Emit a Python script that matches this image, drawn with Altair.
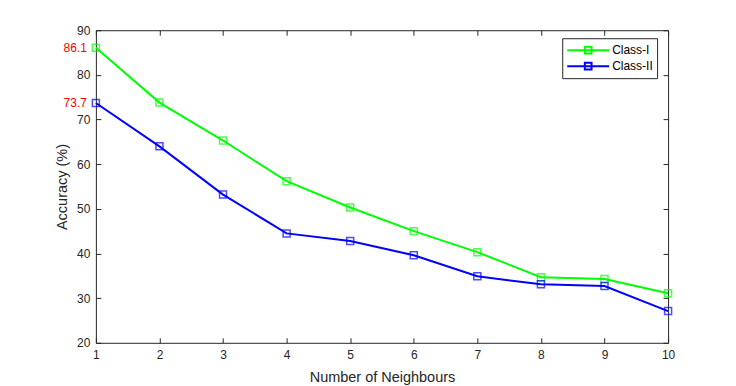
import altair as alt
import pandas as pd

# ---- data ----
neighbours = [1, 2, 3, 4, 5, 6, 7, 8, 9, 10]
class_1 = [86.1, 73.8, 65.3, 56.2, 50.3, 45.0, 40.3, 34.7, 34.3, 31.1]
class_2 = [73.7, 64.0, 53.2, 44.5, 42.8, 39.6, 34.9, 33.1, 32.7, 27.1]
series_names = ["Class-I", "Class-II"]
series_colors = ["#00ff00", "#0000ff"]
x_ticks = [1, 2, 3, 4, 5, 6, 7, 8, 9, 10]
y_ticks = [20, 30, 40, 50, 60, 70, 80, 90]
ann_x = [1, 1]
ann_y = [86.1, 73.7]
ann_text = ["86.1", "73.7"]

df = pd.DataFrame({
    "n": neighbours + neighbours,
    "acc": class_1 + class_2,
    "series": [series_names[0]] * len(neighbours) + [series_names[1]] * len(neighbours),
})
ann = pd.DataFrame({"n": ann_x, "acc": ann_y, "label": ann_text})

FONT = "Liberation Sans"
INK = "#262626"
W, H = 573, 313

xs = alt.Scale(domain=[1, 10], nice=False, zero=False)
ys = alt.Scale(domain=[20, 90], nice=False, zero=False)

axis_common = dict(
    domain=False, tickSize=5, offset=-5, tickColor=INK, tickWidth=1,
    labelFont=FONT, labelFontSize=12, labelColor=INK,
    labelFlush=False, labelOverlap=False, grid=False,
    titleFont=FONT, titleFontSize=14.5, titleFontWeight="normal", titleColor=INK,
)

legend_path = "M-1,0L1,0M-0.16,-0.16L0.16,-0.16L0.16,0.16L-0.16,0.16Z"

color = alt.Color(
    "series:N",
    scale=alt.Scale(domain=series_names, range=series_colors),
    legend=alt.Legend(
        title=None, orient="none", legendX=467, legendY=8,
        symbolType=legend_path, symbolSize=1764, symbolStrokeWidth=2,
        symbolFillColor="transparent",
        clipHeight=16, rowPadding=0, padding=4, labelOffset=2,
        labelFont=FONT, labelFontSize=12, labelColor="#000000",
        strokeColor=INK, fillColor="#ffffff", cornerRadius=0,
    ),
)

lines = alt.Chart(df).mark_line(strokeWidth=2).encode(
    x=alt.X("n:Q", scale=xs, axis=alt.Axis(
        orient="bottom", values=x_ticks, title="Number of Neighbours",
        labelPadding=7, titlePadding=10, **axis_common)),
    y=alt.Y("acc:Q", scale=ys, axis=alt.Axis(
        orient="left", values=y_ticks, title="Accuracy (%)",
        labelPadding=6, titlePadding=7, **axis_common)),
    color=color,
)

points = alt.Chart(df).mark_point(shape="square", filled=False, size=49, strokeWidth=1.5).encode(
    x=alt.X("n:Q", scale=xs, axis=alt.Axis(
        orient="top", values=x_ticks, title=None, labels=False, **axis_common)),
    y=alt.Y("acc:Q", scale=ys, axis=alt.Axis(
        orient="right", values=y_ticks, title=None, labels=False, **axis_common)),
    color=alt.Color("series:N", scale=alt.Scale(domain=series_names, range=series_colors), legend=None),
)

labels = alt.Chart(ann).mark_text(
    align="right", baseline="middle", dx=-9, font=FONT, fontSize=12, color="#ff0000"
).encode(
    x=alt.X("n:Q", scale=xs, axis=None),
    y=alt.Y("acc:Q", scale=ys, axis=None),
    text="label:N",
)

chart = (
    alt.layer(lines, points, labels)
    .resolve_axis(x="independent", y="independent")
    .properties(
        width=W, height=H,
        autosize=alt.AutoSizeParams(type="none"),
        padding={"left": 88, "top": 22, "right": 60, "bottom": 46},
        background="#ffffff",
    )
    .configure_view(stroke=INK, strokeWidth=1)
)

chart.save("out.html", embed_options={"renderer": "svg", "actions": False})
